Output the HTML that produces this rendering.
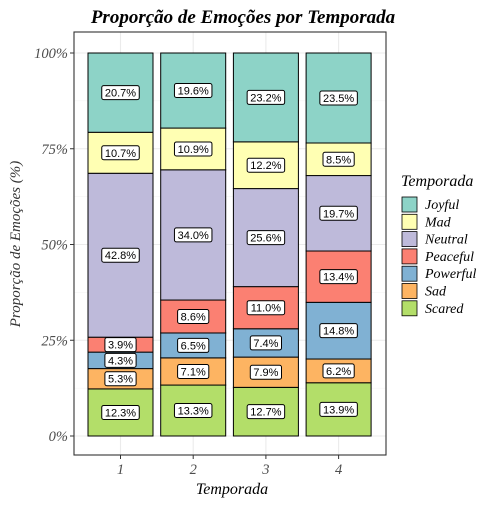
<!DOCTYPE html>
<html><head><meta charset="utf-8">
<style>
body{margin:0;background:#fff;}
svg text{font-family:"Liberation Sans",sans-serif;}
</style></head>
<body>
<svg id="chart" width="504" height="504" xmlns="http://www.w3.org/2000/svg">
<rect width="504" height="504" fill="#fff"/>
<text x="243" y="23" text-anchor="middle" font-size="19" font-weight="bold" fill="#000" style="font-family:'Liberation Serif',serif;font-style:italic">Proporção de Emoções por Temporada</text>
<g id="grid"></g>
<g id="bars"></g>
<g id="labels"></g>
<rect x="74" y="32" width="312" height="423" fill="none" stroke="#333" stroke-width="1.1"/>
<g id="axes"></g>
<text x="232" y="494" text-anchor="middle" font-size="16" fill="#000" style="font-family:'Liberation Serif',serif;font-style:italic">Temporada</text>
<text transform="translate(20,244) rotate(-90)" text-anchor="middle" font-size="15" fill="#333" style="font-family:'Liberation Serif',serif;font-style:italic">Proporção de Emoções (%)</text>
<g id="legend"></g>
</svg>
<script>
const categories = ["1","2","3","4"];
const emotions = ["Joyful","Mad","Neutral","Peaceful","Powerful","Sad","Scared"];
const colors = ["#8DD3C7","#FFFFB3","#BEBADA","#FB8072","#80B1D3","#FDB462","#B3DE69"];
const scared = [12.3,13.3,12.7,13.9];
const sad = [5.3,7.1,7.9,6.2];
const powerful = [4.3,6.5,7.4,14.8];
const peaceful = [3.9,8.6,11.0,13.4];
const neutral = [42.8,34.0,25.6,19.7];
const mad = [10.7,10.9,12.2,8.5];
const joyful = [20.7,19.6,23.2,23.5];
const yTicks = [0,25,50,75,100];
const yTickLabels = ["0%","25%","50%","75%","100%"];

const NS="http://www.w3.org/2000/svg";
const y0=436, y100=53;
const yS=v=>y0-(v/100)*(y0-y100);
const xS=i=>120.5+i*72.7;
const bw=65;
function mk(tag,attrs,parent){const e=document.createElementNS(NS,tag);for(const k in attrs)e.setAttribute(k,attrs[k]);parent.appendChild(e);return e;}
const grid=document.getElementById('grid'),bars=document.getElementById('bars'),labels=document.getElementById('labels'),axes=document.getElementById('axes'),legend=document.getElementById('legend');
for(let v=12.5;v<100;v+=25){const l=mk('line',{x1:74,x2:386,y1:yS(v),y2:yS(v),stroke:'#f2f2f2','stroke-width':0.6},grid);}
yTicks.forEach((v,i)=>{
 const l=mk('line',{x1:74,x2:386,y1:yS(v),y2:yS(v),stroke:'#ebebeb','stroke-width':1.1},grid);
 
 const t=mk('line',{x1:70,x2:74,y1:yS(v),y2:yS(v),stroke:'#333'},axes);
 
 const tx=mk('text',{x:68,y:yS(v)+5,'text-anchor':'end','font-size':14.5,fill:'#4d4d4d',style:"font-family:'Liberation Serif',serif;font-style:italic"},axes);
 tx.textContent=yTickLabels[i];
});
categories.forEach((c,i)=>{
 const l=mk('line',{x1:xS(i),x2:xS(i),y1:32,y2:455,stroke:'#ebebeb','stroke-width':1.1},grid);
 
 const t=mk('line',{x1:xS(i),x2:xS(i),y1:455,y2:459,stroke:'#333'},axes);
 
 const tx=mk('text',{x:xS(i),y:474,'text-anchor':'middle','font-size':14.5,fill:'#4d4d4d',style:"font-family:'Liberation Serif',serif;font-style:italic"},axes);
 tx.textContent=c;
});
const stackOrder=[scared,sad,powerful,peaceful,neutral,mad,joyful];
const stackColors=["#B3DE69","#FDB462","#80B1D3","#FB8072","#BEBADA","#FFFFB3","#8DD3C7"];
categories.forEach((c,i)=>{
 let cum=0;
 const tot=stackOrder.reduce((s,a)=>s+a[i],0);
 stackOrder.forEach((arr,k)=>{
  const v=arr[i]/tot*100;
  const top=yS(cum+v),bot=yS(cum);
  const r=mk('rect',{x:xS(i)-bw/2,y:top,width:bw,height:bot-top,fill:stackColors[k],stroke:'#000','stroke-width':1},bars);
  
  const cy=(top+bot)/2;
  const txt=arr[i].toFixed(1)+'%';
  const w=txt.length*6.3+6;
  const b=mk('rect',{x:xS(i)-w/2,y:cy-7,width:w,height:14,rx:2,fill:'#fff',stroke:'#000','stroke-width':1},labels);
  
  const t=mk('text',{x:xS(i),y:cy+4,'text-anchor':'middle','font-size':11,fill:'#000'},labels);
  t.textContent=txt;
  cum+=v;
 });
});
const lt=mk('text',{x:401,y:186,'font-size':16,fill:'#000',style:"font-family:'Liberation Serif',serif;font-style:italic"},legend);
lt.textContent='Temporada';
emotions.forEach((e,k)=>{
 const y=197+k*17.3;
 const r=mk('rect',{x:402,y:y,width:15,height:15,fill:colors[k],stroke:'#000','stroke-width':0.8},legend);
 
 const t=mk('text',{x:425,y:y+12,'font-size':14,fill:'#000',style:"font-family:'Liberation Serif',serif;font-style:italic"},legend);
 t.textContent=e;
});
</script>
</body></html>
